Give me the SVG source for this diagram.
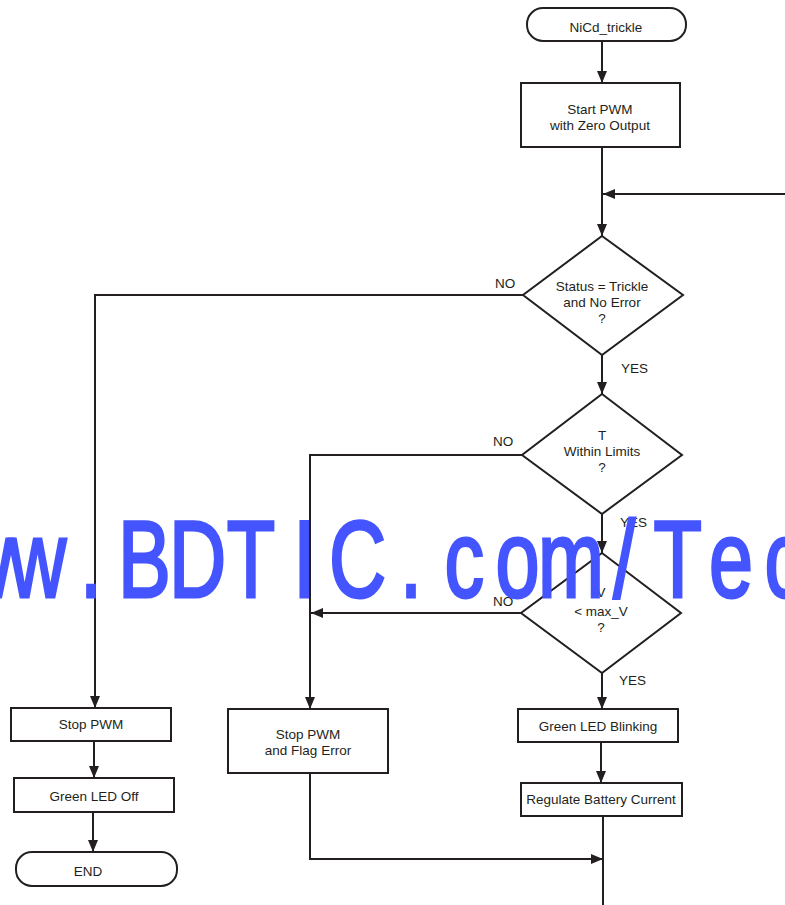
<svg xmlns="http://www.w3.org/2000/svg" width="785" height="905" viewBox="0 0 785 905">
<style>
.box{fill:#fff;stroke:#231f20;stroke-width:2}
.ln{fill:none;stroke:#231f20;stroke-width:2}
.t{font-family:"Liberation Sans",Arial,sans-serif;font-size:13.5px;fill:#231f20;text-anchor:middle}
.lb{font-family:"Liberation Sans",Arial,sans-serif;font-size:13.5px;fill:#231f20}
.wm{font-family:"Liberation Sans",Arial,sans-serif;font-size:110px;fill:#4455ff;stroke:#4455ff;stroke-width:3;text-anchor:middle}
</style>
<defs>
<marker id="arr" markerUnits="userSpaceOnUse" markerWidth="12" markerHeight="10" refX="12" refY="5" orient="auto">
<path d="M0,0 L12,5 L0,10 z" fill="#231f20"/>
</marker>
</defs>
<rect width="785" height="905" fill="#fff"/>
<g id="connectors">
<path class="ln" d="M602,41 V83" marker-end="url(#arr)"/>
<path class="ln" d="M602,147 V236" marker-end="url(#arr)"/>
<path class="ln" d="M785,194 H603" marker-end="url(#arr)"/>
<path class="ln" d="M602,355 V394" marker-end="url(#arr)"/>
<path class="ln" d="M523,295 H95 V708" marker-end="url(#arr)"/>
<path class="ln" d="M602,514 V553" marker-end="url(#arr)"/>
<path class="ln" d="M522,455 H310 V709" marker-end="url(#arr)"/>
<path class="ln" d="M521,613 H311" marker-end="url(#arr)"/>
<path class="ln" d="M602,673 V709" marker-end="url(#arr)"/>
<path class="ln" d="M601,742 V783" marker-end="url(#arr)"/>
<path class="ln" d="M603,816 V905"/>
<path class="ln" d="M310,773 V859 H603" marker-end="url(#arr)"/>
<path class="ln" d="M94,741 V778" marker-end="url(#arr)"/>
<path class="ln" d="M93,812 V852" marker-end="url(#arr)"/>
<text class="lb" x="495" y="288">NO</text>
<text class="lb" x="621" y="373">YES</text>
<text class="lb" x="493" y="446">NO</text>
<text class="lb" x="620" y="527">YES</text>
<text class="lb" x="493" y="606">NO</text>
<text class="lb" x="619" y="685">YES</text>
</g>
<g id="start">
<rect class="box" x="527" y="8" width="159" height="33" rx="16" ry="16"/>
<text class="t" x="606" y="32">NiCd_trickle</text>
</g>
<g id="startpwm">
<rect class="box" x="521" y="83" width="159" height="64"/>
<text class="t" x="600" y="114">Start PWM</text>
<text class="t" x="600" y="130">with Zero Output</text>
</g>
<g id="dec-status">
<polygon class="box" points="602,236 683,295 602,355 523,295"/>
<text class="t" x="602" y="291">Status = Trickle</text>
<text class="t" x="602" y="307">and No Error</text>
<text class="t" x="602" y="323">?</text>
</g>
<g id="dec-temp">
<polygon class="box" points="602,394 682,455 602,514 522,455"/>
<text class="t" x="602" y="440">T</text>
<text class="t" x="602" y="456">Within Limits</text>
<text class="t" x="602" y="472">?</text>
</g>
<g id="dec-volt">
<polygon class="box" points="602,553 681,613 602,673 521,613"/>
<text class="t" x="601" y="597">V</text>
<text class="t" x="601" y="616">&lt; max_V</text>
<text class="t" x="601" y="632">?</text>
</g>
<g id="green-blink">
<rect class="box" x="518" y="709" width="160" height="33"/>
<text class="t" x="598" y="731">Green LED Blinking</text>
</g>
<g id="regulate">
<rect class="box" x="521" y="783" width="161" height="33"/>
<text class="t" x="601" y="804">Regulate Battery Current</text>
</g>
<g id="stop-flag">
<rect class="box" x="228" y="709" width="160" height="64"/>
<text class="t" x="308" y="739">Stop PWM</text>
<text class="t" x="308" y="755">and Flag Error</text>
</g>
<g id="stop-pwm">
<rect class="box" x="11" y="708" width="160" height="33"/>
<text class="t" x="91" y="729">Stop PWM</text>
</g>
<g id="green-off">
<rect class="box" x="14" y="778" width="160" height="34"/>
<text class="t" x="94" y="801">Green LED Off</text>
</g>
<g id="end">
<rect class="box" x="16" y="852" width="161" height="34" rx="16" ry="16"/>
<text class="t" x="88" y="876">END</text>
</g>
<g id="watermark">
<text class="wm" transform="scale(0.72,1)" y="597" x="-95.8 -21.8 52.3 126.4 200.5 274.5 348.6 422.7 496.7 570.8 644.9 718.9 793.0 867.1 941.1 1015.2 1089.3 1163.3">www.BDTIC.com/Tech</text>
</g>
</svg>
